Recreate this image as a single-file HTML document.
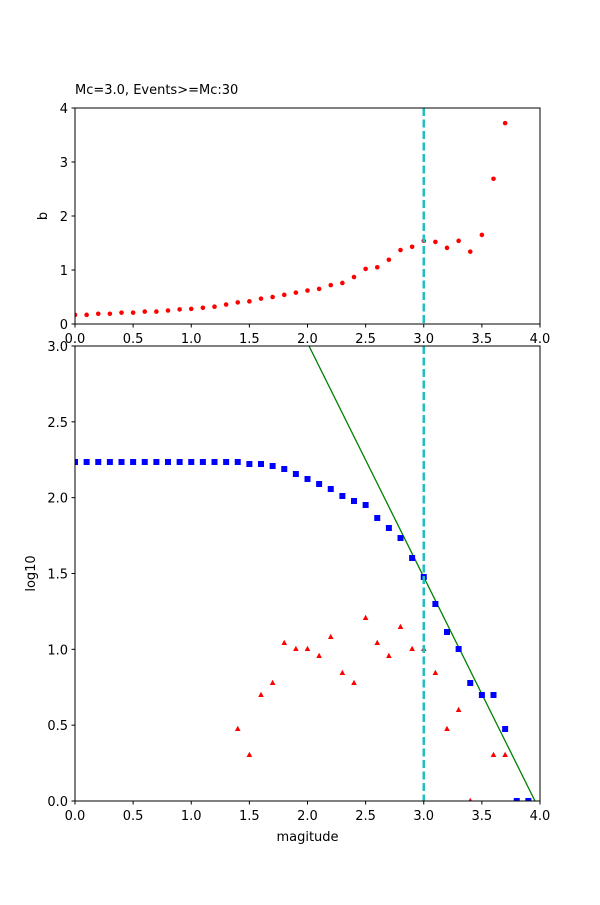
<!DOCTYPE html>
<html><head><meta charset="utf-8"><style>
body{margin:0;background:#fff}
svg text{font-family:"DejaVu Sans","Liberation Sans",sans-serif;font-size:13px;fill:#000}
</style></head><body>
<svg id="s" width="600" height="900" xmlns="http://www.w3.org/2000/svg"></svg>
<script>
const s=document.getElementById('s');let h='';
const X=v=>75+v*116.25;
const Yt=v=>324-v*54;
const Yb=v=>801-v*151.667;
// top axes
h+='<text x="75" y="94">Mc=3.0, Events&gt;=Mc:30</text>';
const bv=[0.17,0.17,0.19,0.19,0.21,0.21,0.23,0.23,0.25,0.27,0.28,0.30,0.32,0.36,0.40,0.42,0.47,0.50,0.54,0.58,0.62,0.65,0.72,0.76,0.87,1.02,1.05,1.19,1.37,1.43,1.54,1.52,1.41,1.54,1.34,1.65,2.69,3.72];
h+='<defs><clipPath id="ct"><rect x="75" y="108" width="465" height="216"/></clipPath><clipPath id="cb"><rect x="75" y="346" width="465" height="455"/></clipPath></defs>';
h+='<g clip-path="url(#ct)">';
bv.forEach((b,i)=>{h+=`<circle cx="${X(i/10)}" cy="${Yt(b)}" r="2.3" fill="red"/>`});
h+='</g>';
h+=`<line x1="${X(3)}" y1="108" x2="${X(3)}" y2="324" stroke="#17becf" stroke-width="2.5" stroke-dasharray="8,3.5" style="stroke:#1fbfbf"/>`;
h+='<rect x="75" y="108" width="465" height="216" fill="none" stroke="#000"/>';
for(let i=0;i<=4;i++){const y=Yt(i);h+=`<line x1="71.5" y1="${y}" x2="75" y2="${y}" stroke="#000"/><text x="68" y="${y+5}" text-anchor="end">${i}</text>`}
for(let i=0;i<=8;i++){const x=X(i/2);h+=`<line x1="${x}" y1="324" x2="${x}" y2="327.5" stroke="#000"/><text x="${x}" y="343" text-anchor="middle">${(i/2).toFixed(1)}</text>`}
h+='<text transform="translate(47,216) rotate(-90)" text-anchor="middle">b</text>';
// bottom axes
h+='<g clip-path="url(#cb)">';
h+='<line x1="309" y1="346" x2="535" y2="801" stroke="green" stroke-width="1.3"/>';
const sq={1.5:464,1.6:464,1.7:466,1.8:469,1.9:474,2.0:479,2.1:484,2.2:489,2.3:496,2.4:501,2.5:505,2.6:518,2.7:528,2.8:538,2.9:558,3.0:577,3.1:604,3.2:632,3.3:649,3.4:683,3.5:695,3.6:695,3.7:729,3.8:801,3.9:801};
for(let i=0;i<=14;i++)sq[(i/10).toFixed(1)]=462;
for(const k in sq){h+=`<rect x="${X(+k)-3}" y="${sq[k]-3}" width="6" height="6" fill="blue"/>`}
const tr={1.4:729,1.5:755,1.6:695,1.7:683,1.8:643,1.9:649,2.0:649,2.1:656,2.2:637,2.3:673,2.4:683,2.5:618,2.6:643,2.7:656,2.8:627,2.9:649,3.0:649,3.1:673,3.2:729,3.3:710,3.4:801,3.6:755,3.7:755};
for(const k in tr){const x=X(+k),y=tr[k];h+=`<polygon points="${x},${y-3.2} ${x-2.8},${y+2} ${x+2.8},${y+2}" fill="red" ${k=='3.0'?'opacity="0.4"':''}/>`}
h+='</g>';
h+=`<line x1="${X(3)}" y1="346" x2="${X(3)}" y2="801" stroke="#1fbfbf" stroke-width="2.5" stroke-dasharray="8,3.5"/>`;
h+='<rect x="75" y="346" width="465" height="455" fill="none" stroke="#000"/>';
for(let i=0;i<=6;i++){const y=Yb(i/2);h+=`<line x1="71.5" y1="${y}" x2="75" y2="${y}" stroke="#000"/><text x="68" y="${y+5}" text-anchor="end">${(i/2).toFixed(1)}</text>`}
for(let i=0;i<=8;i++){const x=X(i/2);h+=`<line x1="${x}" y1="801" x2="${x}" y2="804.5" stroke="#000"/><text x="${x}" y="820" text-anchor="middle">${(i/2).toFixed(1)}</text>`}
h+='<text x="307.5" y="841" text-anchor="middle">magitude</text>';
h+='<text transform="translate(35,573.5) rotate(-90)" text-anchor="middle">log10</text>';
s.innerHTML=h;
</script>
</body></html>
